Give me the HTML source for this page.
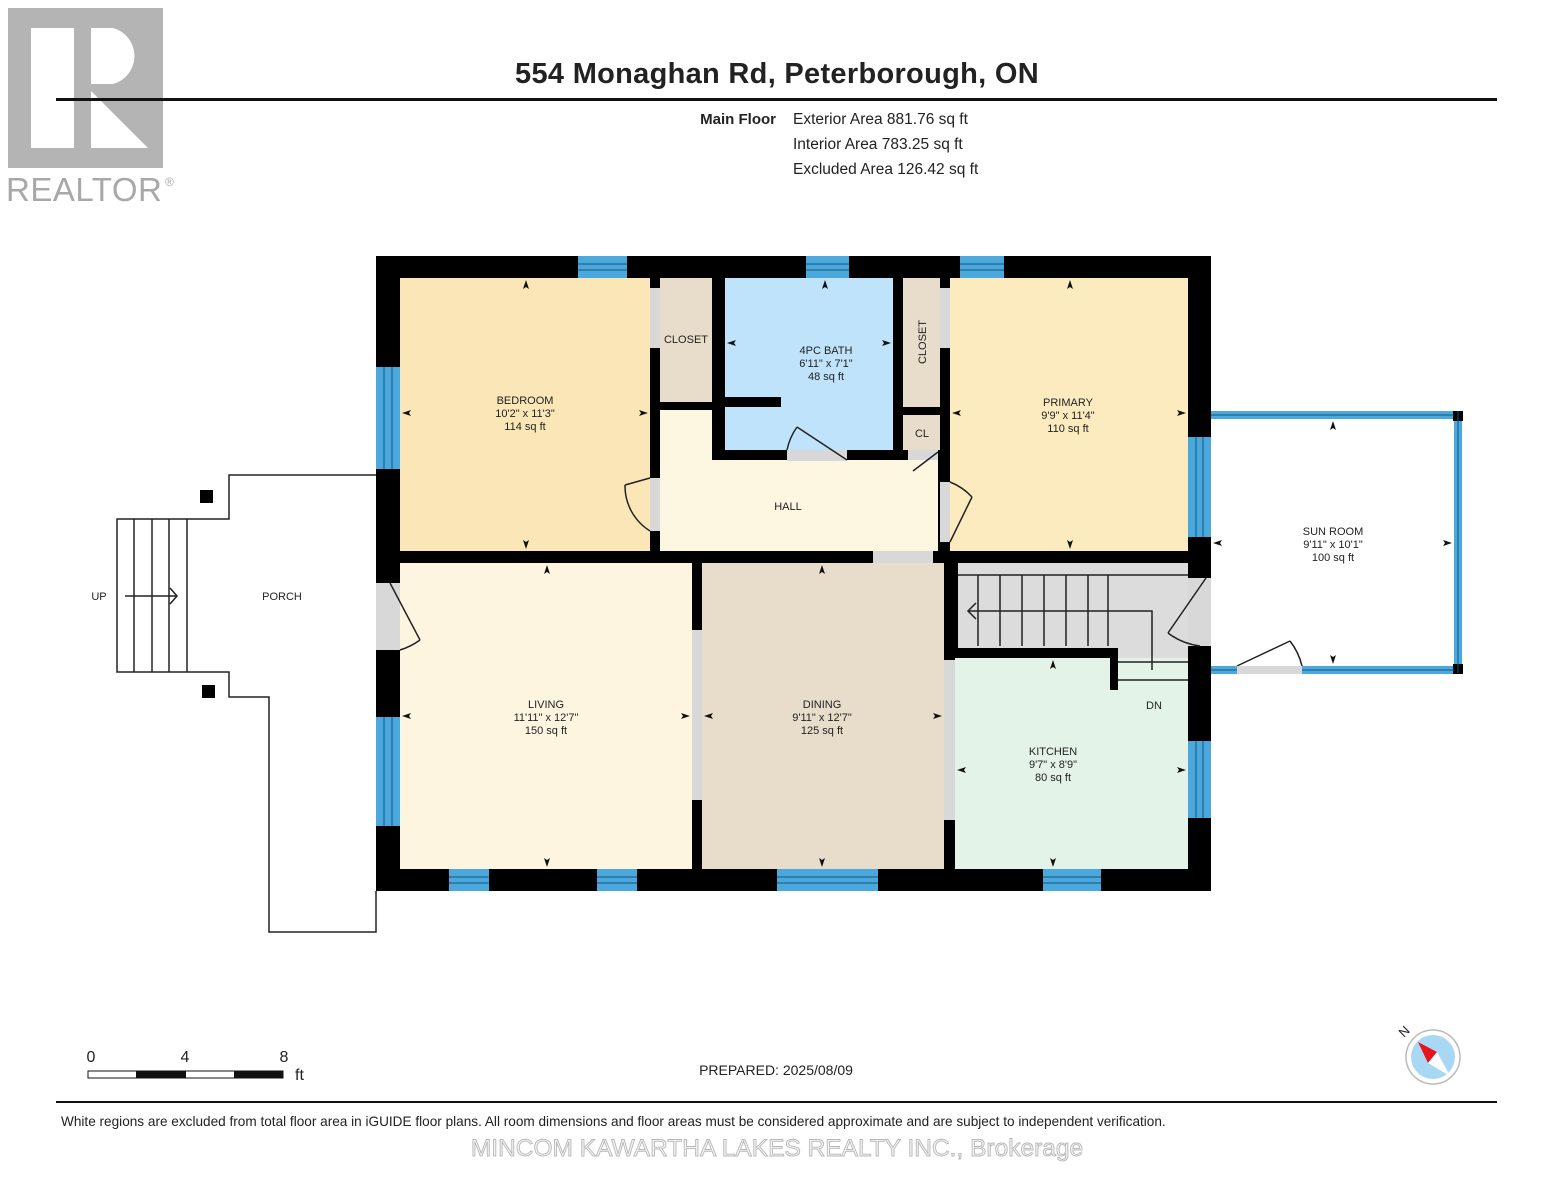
<!DOCTYPE html>
<html><head><meta charset="utf-8"><style>
html,body{margin:0;padding:0;background:#fff;}
svg{display:block;}
text{font-family:"Liberation Sans",Arial,sans-serif;fill:#222;}
</style></head><body>
<svg width="1553" height="1200" viewBox="0 0 1553 1200" xmlns="http://www.w3.org/2000/svg">
<!-- Logo -->
<rect x="8" y="8" width="155" height="160" fill="#b4b4b4"/>
<rect x="31" y="28" width="43" height="120" fill="#fff"/>
<path d="M91 28 H113 A29 29 0 0 1 113 84 H91 Z" fill="#fff"/>
<polygon points="91,91 91,148 148,148" fill="#fff"/>
<text x="6" y="201" font-size="33" style="fill:#a8a8a8" letter-spacing="0.5">REALTOR</text>
<text x="165" y="186" font-size="12" style="fill:#a8a8a8">®</text>
<!-- Header -->
<text x="777" y="83" font-size="29" font-weight="bold" text-anchor="middle" letter-spacing="0.3">554 Monaghan Rd, Peterborough, ON</text>
<rect x="56" y="98" width="1441" height="3" fill="#111"/>
<text x="776" y="124" font-size="15" font-weight="bold" text-anchor="end">Main Floor</text>
<text x="793" y="124" font-size="15.5">Exterior Area 881.76 sq ft</text>
<text x="793" y="149" font-size="15.5">Interior Area 783.25 sq ft</text>
<text x="793" y="174" font-size="15.5">Excluded Area 126.42 sq ft</text>

<!-- Porch -->
<g fill="none" stroke="#222" stroke-width="1.5">
<polyline points="376,475 229,475 229,519 117,519 117,672 229,672 229,697 269,697 269,932 376,932 376,891"/>
<line x1="134" y1="519" x2="134" y2="672"/><line x1="152" y1="519" x2="152" y2="672"/>
<line x1="169" y1="519" x2="169" y2="672"/><line x1="187" y1="519" x2="187" y2="672"/>
<line x1="125" y1="596" x2="176" y2="596"/><polyline points="170,588 177,596 170,604"/>
</g>
<rect x="200" y="490" width="13" height="13" fill="#000"/>
<rect x="202" y="685" width="13" height="13" fill="#000"/>
<text x="99" y="600" font-size="11" text-anchor="middle">UP</text>
<text x="282" y="600" font-size="11" text-anchor="middle">PORCH</text>

<!-- Walls base -->
<rect x="376" y="256" width="835" height="635" fill="#000"/>
<!-- Rooms -->
<rect x="400" y="278" width="250" height="273" fill="#fbe6b8"/>
<rect x="660" y="278" width="52" height="124" fill="#e8dccb"/>
<rect x="725" y="278" width="168" height="172" fill="#bfe3fb"/>
<rect x="903" y="278" width="37" height="129" fill="#e8dccb"/>
<rect x="903" y="415" width="37" height="35" fill="#e8dccb"/>
<rect x="660" y="410" width="52" height="50" fill="#fdf6e0"/>
<rect x="660" y="460" width="278" height="91" fill="#fdf6e0"/>
<rect x="950" y="278" width="238" height="273" fill="#fdebc0"/>
<rect x="400" y="563" width="292" height="306" fill="#fdf5df"/>
<rect x="702" y="563" width="242" height="306" fill="#e8dccb"/>
<rect x="958" y="563" width="230" height="85" fill="#dcdcdc"/>
<rect x="1118" y="648" width="70" height="34" fill="#dcdcdc"/>
<rect x="955" y="658" width="233" height="211" fill="#e4f3e8"/>
<rect x="1118" y="682" width="70" height="10" fill="#e4f3e8"/>
<rect x="1110" y="648" width="8" height="42" fill="#000"/>
<rect x="955" y="648" width="163" height="10" fill="#000"/>
<rect x="725" y="397" width="56" height="10" fill="#000"/>
<!-- door openings -->
<g fill="#d8d8d8">
<rect x="650" y="288" width="10" height="60"/>
<rect x="940" y="288" width="10" height="60"/>
<rect x="650" y="478" width="10" height="53"/>
<rect x="940" y="482" width="10" height="60"/>
<rect x="787" y="450" width="60" height="11"/>
<rect x="908" y="450" width="30" height="10"/>
<rect x="873" y="551" width="60" height="12"/>
<rect x="376" y="583" width="24" height="67"/>
<rect x="692" y="630" width="10" height="170"/>
<rect x="944" y="660" width="11" height="160"/>
<rect x="1188" y="578" width="23" height="68"/>
</g>
<g fill="none" stroke="#222" stroke-width="1.5">
<path d="M650 478 L625 485 M650 531 A53 53 0 0 1 625 485"/>
<path d="M950 542 L972 497 M950 482 A60 60 0 0 1 972 497"/>
<path d="M847 460 L797 427 M787 450 A60 60 0 0 1 797 427"/>
<path d="M938 452 L913 471"/>
<path d="M390 583 L420 640 M400 650 A67 67 0 0 0 420 640"/>
<path d="M1206 578 L1168 633 M1168 633 A67 67 0 0 0 1200 646"/>
<path d="M1237 666 L1290 641 M1290 641 A65 65 0 0 1 1302 666"/>
</g>
<!-- Stairs -->
<g stroke="#222" stroke-width="1.5" fill="none">
<line x1="958" y1="575" x2="1188" y2="575"/>
<line x1="978" y1="575" x2="978" y2="646"/><line x1="1000" y1="575" x2="1000" y2="646"/>
<line x1="1022" y1="575" x2="1022" y2="646"/><line x1="1044" y1="575" x2="1044" y2="646"/>
<line x1="1066" y1="575" x2="1066" y2="646"/><line x1="1088" y1="575" x2="1088" y2="646"/>
<line x1="1108" y1="575" x2="1108" y2="646"/>
<line x1="1118" y1="662" x2="1188" y2="662"/><line x1="1118" y1="680" x2="1188" y2="680"/>
<polyline points="1152,670 1152,611 968,611"/><polyline points="976,603 968,611 976,619"/>
</g>
<!-- Windows -->
<g fill="#4aa8dc">
<rect x="578" y="256" width="49" height="22"/><rect x="806" y="256" width="43" height="22"/>
<rect x="960" y="256" width="44" height="22"/>
<rect x="376" y="367" width="24" height="102"/><rect x="376" y="717" width="24" height="109"/>
<rect x="449" y="869" width="40" height="22"/><rect x="597" y="869" width="40" height="22"/>
<rect x="777" y="869" width="101" height="22"/><rect x="1043" y="869" width="58" height="22"/>
<rect x="1188" y="437" width="23" height="100"/><rect x="1188" y="741" width="23" height="77"/>
<rect x="1211" y="411" width="243" height="8"/><rect x="1454" y="411" width="8" height="262"/>
<rect x="1211" y="666" width="26" height="8"/><rect x="1302" y="666" width="152" height="8"/>
</g>
<rect x="1237" y="666" width="65" height="8" fill="#d8d8d8"/>
<rect x="1453" y="411" width="10" height="10" fill="#000"/>
<rect x="1453" y="664" width="10" height="10" fill="#000"/>
<g stroke="#17557a" stroke-width="1">
<line x1="578" y1="264" x2="627" y2="264"/><line x1="578" y1="270" x2="627" y2="270"/>
<line x1="806" y1="264" x2="849" y2="264"/><line x1="806" y1="270" x2="849" y2="270"/>
<line x1="960" y1="264" x2="1004" y2="264"/><line x1="960" y1="270" x2="1004" y2="270"/>
<line x1="384" y1="367" x2="384" y2="469"/><line x1="392" y1="367" x2="392" y2="469"/>
<line x1="384" y1="717" x2="384" y2="826"/><line x1="392" y1="717" x2="392" y2="826"/>
<line x1="449" y1="877" x2="489" y2="877"/><line x1="449" y1="883" x2="489" y2="883"/>
<line x1="597" y1="877" x2="637" y2="877"/><line x1="597" y1="883" x2="637" y2="883"/>
<line x1="777" y1="877" x2="878" y2="877"/><line x1="777" y1="883" x2="878" y2="883"/>
<line x1="1043" y1="877" x2="1101" y2="877"/><line x1="1043" y1="883" x2="1101" y2="883"/>
<line x1="1196" y1="437" x2="1196" y2="537"/><line x1="1203" y1="437" x2="1203" y2="537"/>
<line x1="1196" y1="741" x2="1196" y2="818"/><line x1="1203" y1="741" x2="1203" y2="818"/>
<line x1="1211" y1="415" x2="1454" y2="415"/><line x1="1458" y1="411" x2="1458" y2="673"/>
<line x1="1211" y1="670" x2="1237" y2="670"/><line x1="1302" y1="670" x2="1454" y2="670"/>
</g>

<!-- Arrowheads -->
<g fill="#111">
<path d="M526 280 l-3 9 3 -2 3 2z"/><path d="M526 549 l-3 -9 3 2 3 -2z"/>
<path d="M402 413 l9 -3 -2 3 2 3z"/><path d="M648 413 l-9 -3 2 3 -2 3z"/>
<path d="M825 280 l-3 9 3 -2 3 2z"/><path d="M727 343 l9 -3 -2 3 2 3z"/><path d="M891 343 l-9 -3 2 3 -2 3z"/>
<path d="M1070 280 l-3 9 3 -2 3 2z"/><path d="M1070 549 l-3 -9 3 2 3 -2z"/>
<path d="M952 413 l9 -3 -2 3 2 3z"/><path d="M1186 413 l-9 -3 2 3 -2 3z"/>
<path d="M547 565 l-3 9 3 -2 3 2z"/><path d="M547 867 l-3 -9 3 2 3 -2z"/>
<path d="M402 716 l9 -3 -2 3 2 3z"/><path d="M690 716 l-9 -3 2 3 -2 3z"/>
<path d="M822 565 l-3 9 3 -2 3 2z"/><path d="M822 867 l-3 -9 3 2 3 -2z"/>
<path d="M704 716 l9 -3 -2 3 2 3z"/><path d="M942 716 l-9 -3 2 3 -2 3z"/>
<path d="M1053 660 l-3 9 3 -2 3 2z"/><path d="M1053 867 l-3 -9 3 2 3 -2z"/>
<path d="M957 770 l9 -3 -2 3 2 3z"/><path d="M1186 770 l-9 -3 2 3 -2 3z"/>
<path d="M1333 421 l-3 9 3 -2 3 2z"/><path d="M1333 664 l-3 -9 3 2 3 -2z"/>
<path d="M1213 543 l9 -3 -2 3 2 3z"/><path d="M1452 543 l-9 -3 2 3 -2 3z"/>
</g>

<!-- Labels -->
<g font-size="11" text-anchor="middle">
<text x="525" y="404">BEDROOM</text><text x="525" y="417">10'2" x 11'3"</text><text x="525" y="430">114 sq ft</text>
<text x="686" y="343">CLOSET</text>
<text x="826" y="354">4PC BATH</text><text x="826" y="367">6'11" x 7'1"</text><text x="826" y="380">48 sq ft</text>
<text x="0" y="0" transform="translate(926,342) rotate(-90)">CLOSET</text>
<text x="922" y="437">CL</text>
<text x="788" y="510">HALL</text>
<text x="1068" y="406">PRIMARY</text><text x="1068" y="419">9'9" x 11'4"</text><text x="1068" y="432">110 sq ft</text>
<text x="1333" y="535">SUN ROOM</text><text x="1333" y="548">9'11" x 10'1"</text><text x="1333" y="561">100 sq ft</text>
<text x="546" y="708">LIVING</text><text x="546" y="721">11'11" x 12'7"</text><text x="546" y="734">150 sq ft</text>
<text x="822" y="708">DINING</text><text x="822" y="721">9'11" x 12'7"</text><text x="822" y="734">125 sq ft</text>
<text x="1053" y="755">KITCHEN</text><text x="1053" y="768">9'7" x 8'9"</text><text x="1053" y="781">80 sq ft</text>
<text x="1154" y="709">DN</text>
</g>

<!-- Scale -->
<g font-size="16">
<text x="91" y="1062" text-anchor="middle">0</text><text x="185" y="1062" text-anchor="middle">4</text><text x="284" y="1062" text-anchor="middle">8</text>
<text x="295" y="1080">ft</text>
</g>
<rect x="88" y="1071" width="195" height="7" fill="#fff" stroke="#111" stroke-width="1"/>
<rect x="136" y="1071" width="50" height="7" fill="#111"/>
<rect x="234" y="1071" width="49" height="7" fill="#111"/>
<text x="776" y="1075" font-size="14" text-anchor="middle">PREPARED: 2025/08/09</text>

<!-- Compass -->
<circle cx="1433" cy="1057" r="27" fill="#fff" stroke="#bbb" stroke-width="1.5"/>
<circle cx="1433" cy="1057" r="22" fill="#a8d8f4"/>
<polygon points="1418,1042 1437,1052 1428,1063" fill="#e8141b"/>
<polygon points="1437,1052 1428,1063 1450,1076" fill="#fff"/>
<text x="0" y="0" font-size="13" transform="translate(1404,1038) rotate(-45)">N</text>

<!-- Footer -->
<rect x="56" y="1101" width="1441" height="2" fill="#111"/>
<text x="61" y="1126" font-size="13.6">White regions are excluded from total floor area in iGUIDE floor plans. All room dimensions and floor areas must be considered approximate and are subject to independent verification.</text>
<text x="777" y="1156" font-size="24.5" text-anchor="middle" style="fill:#f4f4f4;stroke:#b8b8b8;stroke-width:0.9">MINCOM KAWARTHA LAKES REALTY INC., Brokerage</text>
</svg>
</body></html>
